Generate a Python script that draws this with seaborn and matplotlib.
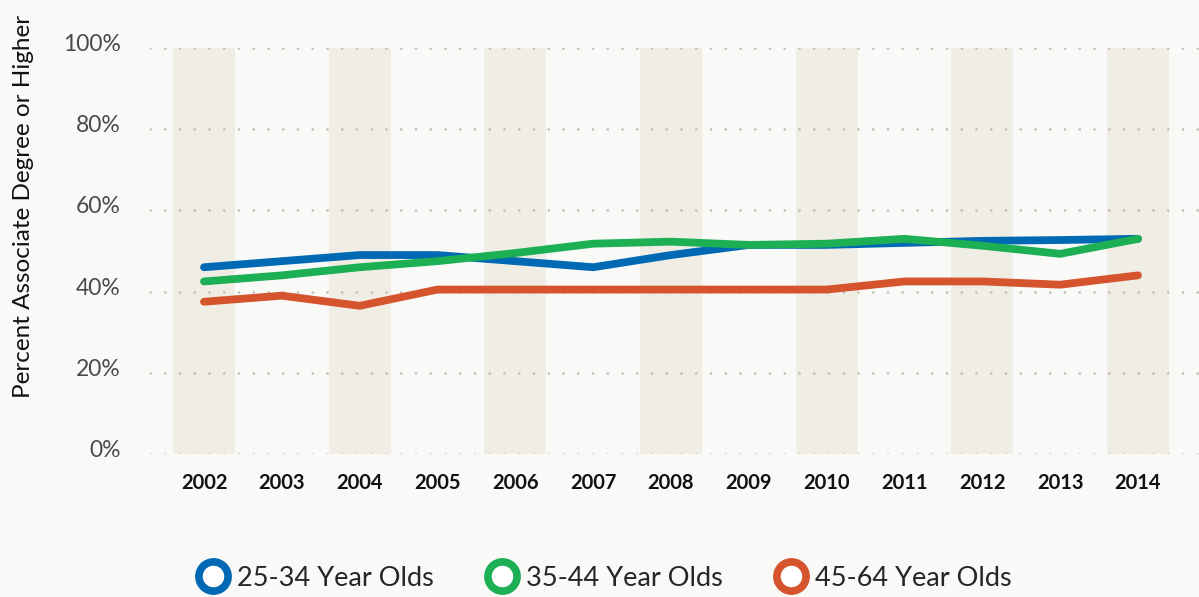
import matplotlib
matplotlib.use("Agg")
import matplotlib.pyplot as plt
from matplotlib.lines import Line2D
from matplotlib.transforms import ScaledTranslation
import pandas as pd
import seaborn as sns

# Share of each age group holding an associate degree or higher
years = list(range(2002, 2015))
age_25_34 = [46.0, 47.5, 49.0, 49.0, 47.5, 46.0, 49.0, 51.5, 51.5, 52.0, 52.5, 52.7, 53.0]
age_35_44 = [42.5, 44.0, 46.0, 47.5, 49.5, 51.8, 52.3, 51.5, 51.8, 53.0, 51.3, 49.3, 53.0]
age_45_64 = [37.5, 39.0, 36.5, 40.5, 40.5, 40.5, 40.5, 40.5, 40.5, 42.5, 42.5, 41.7, 44.0]
series_names = ["25-34 Year Olds", "35-44 Year Olds", "45-64 Year Olds"]
y_ticks = [0, 20, 40, 60, 80, 100]

colors = ["#0069b4", "#1caf54", "#d5542d"]
bg = "#f9f9f7"
band = "#f0ede5"
dot = "#c4c0b6"

df = pd.concat([
    pd.DataFrame({"year": years, "value": vals, "group": name})
    for name, vals in zip(series_names, [age_25_34, age_35_44, age_45_64])
])

sns.set_style("white")
plt.rcParams["font.family"] = ["Lato", "DejaVu Sans"]

fig = plt.figure(figsize=(11.99, 5.97), dpi=100, facecolor=bg)
ax = fig.add_axes([150 / 1199, 143 / 597, 1049 / 1199, 406 / 597])
ax.set_facecolor(bg)

# alternating shaded year columns
for yr in years[::2]:
    ax.fill_between([yr - 0.4, yr + 0.4], 0, 100, color=band, lw=0, zorder=0)

# dotted horizontal gridlines
for t in y_ticks:
    ax.axhline(t, color=dot, lw=2.0, linestyle=(0, (0.01, 5.3)),
               dash_capstyle="round", zorder=1)

sns.lineplot(data=df, x="year", y="value", hue="group", palette=colors,
             hue_order=series_names, linewidth=5.6, ax=ax, legend=False,
             zorder=3)
for ln in ax.get_lines()[-3:]:
    ln.set_solid_capstyle("round")
    ln.set_solid_joinstyle("round")

ax.set_xlim(2002 - 54 / 77.83, 2014 + 61 / 77.83)
ax.set_ylim(0, 100)
ax.set_xticks(years)
ax.set_xticklabels([str(y) for y in years], fontsize=14.5, fontweight="bold",
                   color="#111111")
ax.set_yticks(y_ticks)
ax.set_yticklabels([f"{t}%" for t in y_ticks], fontsize=16.5, color="#4a4a4a")
ax.tick_params(axis="x", length=0, pad=14)
ax.tick_params(axis="y", length=0, pad=21)
lift = ScaledTranslation(0, 4 / 72, fig.dpi_scale_trans)
for lab in ax.get_yticklabels():
    lab.set_transform(lab.get_transform() + lift)
for s in ax.spines.values():
    s.set_visible(False)
ax.grid(False)

ax.set_xlabel("")
ax.set_ylabel("Percent Associate Degree or Higher", fontsize=17.5, color="#111111")
ax.yaxis.set_label_coords(-116 / 1049, 0.61)

handles = [
    Line2D([], [], linestyle="none", marker="o", markersize=21,
           markerfacecolor="white", markeredgecolor=c, markeredgewidth=5.5)
    for c in colors
]
fig.legend(handles, series_names, loc="center", bbox_to_anchor=(0.505, 1 - 578 / 597),
           ncol=3, frameon=False, fontsize=19.5, handlelength=1.0,
           handletextpad=0.4, columnspacing=2.0, borderaxespad=0)

fig.savefig("out.png", dpi=100, facecolor=bg)
